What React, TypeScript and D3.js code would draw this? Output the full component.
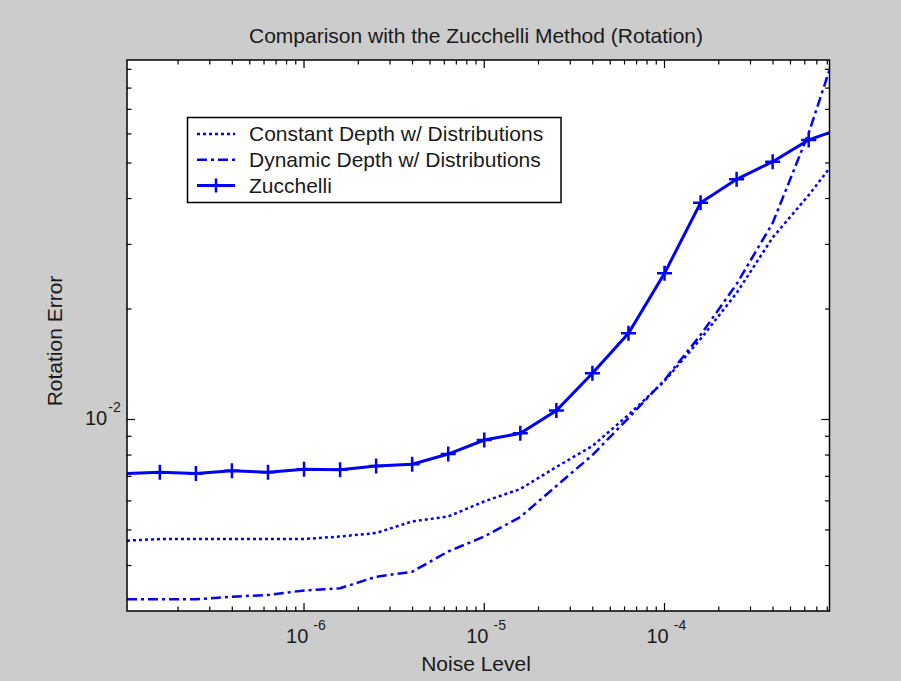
import * as d3 from 'd3';

// noise levels (x) shared by all three series
const noise = [
  1.042e-7, 1.585e-7, 2.512e-7, 3.981e-7, 6.31e-7, 1e-6, 1.585e-6, 2.512e-6, 3.981e-6, 6.31e-6,
  1e-5, 1.585e-5, 2.512e-5, 3.981e-5, 6.31e-5, 1e-4, 1.585e-4, 2.512e-4, 3.981e-4, 6.31e-4, 8.23e-4,
];
const constantDepth = [
  4.675e-3, 4.724e-3, 4.724e-3, 4.724e-3, 4.724e-3, 4.724e-3, 4.799e-3, 4.905e-3, 5.274e-3, 5.442e-3,
  5.979e-3, 6.466e-3, 7.424e-3, 8.469e-3, 1.029e-2, 1.273e-2, 1.657e-2, 2.211e-2, 3.131e-2, 4.086e-2, 4.836e-2,
];
const dynamicDepth = [
  3.236e-3, 3.236e-3, 3.236e-3, 3.29e-3, 3.325e-3, 3.421e-3, 3.468e-3, 3.728e-3, 3.847e-3, 4.368e-3,
  4.799e-3, 5.424e-3, 6.589e-3, 8.0e-3, 1.009e-2, 1.281e-2, 1.699e-2, 2.34e-2, 3.43e-2, 6.036e-2, 8.96e-2,
];
const zucchelli = [
  7.13e-3, 7.18e-3, 7.13e-3, 7.25e-3, 7.18e-3, 7.32e-3, 7.29e-3, 7.47e-3, 7.55e-3, 8.05e-3,
  8.79e-3, 9.17e-3, 1.058e-2, 1.336e-2, 1.718e-2, 2.502e-2, 3.897e-2, 4.512e-2, 5.04e-2, 5.78e-2, 6.05e-2,
];
// zucchelli markers are drawn at every point except the two clipped edge points
const seriesNames = ['Constant Depth w/ Distributions', 'Dynamic Depth w/ Distributions', 'Zucchelli'];
const xTickLabels = [1e-6, 1e-5, 1e-4];
const yTickLabels = [1e-2];

const FONT = '"Liberation Sans", Arial, sans-serif';
const BLUE = '#0000ff';

export default function App() {
  const width = 901, height = 681;
  const left = 127, right = 829.5, top = 60, bottom = 611;

  const x = d3.scaleLog().domain([1.042e-7, 8.23e-4]).range([left, right]);
  const y = d3.scaleLog().domain([3.007e-3, 9.541e-2]).range([bottom, top]);

  const line = (vals: number[]) =>
    d3.line<number>().x((_, i) => x(noise[i])).y((d) => y(d))(vals) || '';

  const [x0, x1] = x.domain();
  const xTicks = x.ticks().filter((t) => t >= x0 && t <= x1);
  const [y0, y1] = y.domain();
  const yTicks = y.ticks().filter((t) => t >= y0 * 0.999 && t <= y1);
  const isMajor = (t: number) => Math.abs(Math.log10(t) - Math.round(Math.log10(t))) < 1e-6;

  const plus = (cx: number, cy: number, s: number, key: any) => (
    <path key={key} d={`M${cx - s},${cy}H${cx + s}M${cx},${cy - s}V${cy + s}`} stroke={BLUE} strokeWidth={2.5} />
  );

  const styles = [
    { dash: '3,3', w: 2.5 },
    { dash: '10,4,3,4', w: 2.5 },
    { dash: null, w: 3 },
  ];

  return (
    <svg width={width} height={height} style={{ position: 'absolute', left: 0, top: 0 }} fontFamily={FONT}>
      <defs>
        <clipPath id="plotClip">
          <rect x={left} y={top} width={right - left} height={bottom - top} />
        </clipPath>
      </defs>
      <rect width={width} height={height} fill="#cccccc" />
      <rect x={left} y={top} width={right - left} height={bottom - top} fill="#ffffff" />

      <g clipPath="url(#plotClip)" fill="none">
        <path d={line(constantDepth)} stroke={BLUE} strokeWidth={styles[0].w} strokeDasharray={styles[0].dash!} />
        <path d={line(dynamicDepth)} stroke={BLUE} strokeWidth={styles[1].w} strokeDasharray={styles[1].dash!} />
        <path d={line(zucchelli)} stroke={BLUE} strokeWidth={styles[2].w} />
        {zucchelli.map((v, i) =>
          i === 0 || i === zucchelli.length - 1 ? null : plus(x(noise[i]), y(v), 7.5, i)
        )}
      </g>

      {/* ticks, inward on all four sides */}
      <g stroke="#000" strokeWidth={1.2}>
        {xTicks.map((t, i) => {
          const len = isMajor(t) ? 8 : 4.5;
          const px = x(t);
          return (
            <g key={'x' + i}>
              <line x1={px} x2={px} y1={bottom} y2={bottom - len} />
              <line x1={px} x2={px} y1={top} y2={top + len} />
            </g>
          );
        })}
        {yTicks.map((t, i) => {
          const len = isMajor(t) ? 8 : 4.5;
          const py = y(t);
          return (
            <g key={'y' + i}>
              <line x1={left} x2={left + len} y1={py} y2={py} />
              <line x1={right} x2={right - len} y1={py} y2={py} />
            </g>
          );
        })}
      </g>
      <rect x={left} y={top} width={right - left} height={bottom - top} fill="none" stroke="#000" strokeWidth={1.5} />

      {/* tick labels */}
      <g fill="#1a1a1a">
        {xTickLabels.map((t) => (
          <text key={t} x={x(t) - 18} y={643}>
            <tspan fontSize={20}>10</tspan>
            <tspan fontSize={14} dx={5} dy={-13}>{Math.round(Math.log10(t))}</tspan>
          </text>
        ))}
        {yTickLabels.map((t) => (
          <text key={t} x={85} y={y(t) + 6}>
            <tspan fontSize={20}>10</tspan>
            <tspan fontSize={14} dx={1} dy={-13}>{Math.round(Math.log10(t))}</tspan>
          </text>
        ))}
      </g>

      <text x={476} y={43} textAnchor="middle" fontSize={21} fill="#1a1a1a">
        Comparison with the Zucchelli Method (Rotation)
      </text>
      <text x={476} y={671} textAnchor="middle" fontSize={21} fill="#1a1a1a">
        Noise Level
      </text>
      <text transform="translate(62,341) rotate(-90)" textAnchor="middle" fontSize={21} fill="#1a1a1a">
        Rotation Error
      </text>

      {/* legend */}
      <g>
        <rect x={187.5} y={117.5} width={373.5} height={85} fill="#ffffff" stroke="#000" strokeWidth={1.5} />
        {seriesNames.map((name, i) => {
          const ly = 134 + i * 25.8;
          const st = styles[i];
          return (
            <g key={name}>
              <line x1={197} x2={235} y1={ly} y2={ly} stroke={BLUE} strokeWidth={st.w}
                strokeDasharray={st.dash || undefined} />
              {i === 2 ? plus(216, ly, 7, 'lg') : null}
              <text x={249} y={ly + 7} fontSize={21} fill="#1a1a1a">{name}</text>
            </g>
          );
        })}
      </g>
    </svg>
  );
}
